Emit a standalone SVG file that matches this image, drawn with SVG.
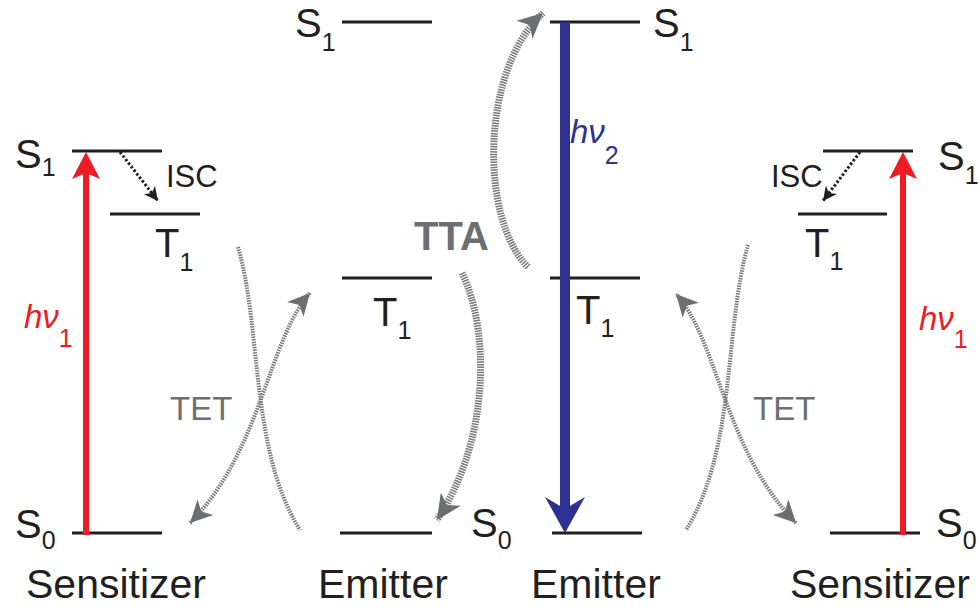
<svg xmlns="http://www.w3.org/2000/svg" width="978" height="607" viewBox="0 0 978 607">
<style>
text{font-family:"Liberation Sans",Arial,Helvetica,sans-serif;}
.lv{stroke:#231F20;stroke-width:3;fill:none;}
.lb{font-size:40px;fill:#231F20;}
.sub{font-size:25px;font-style:normal;}
.name{font-size:41px;fill:#231F20;}
.isc{font-size:31px;fill:#231F20;}
.tet{font-size:33px;fill:#6D6E71;}
.tta{font-size:40px;font-weight:bold;fill:#6D6E71;}
.hv{font-size:33px;}
.it{font-style:italic;}
.red{fill:#ED1C24;}
.blue{fill:#2E3192;}
.tetl{fill:none;stroke:#77787B;stroke-width:4;stroke-dasharray:1.5 1.1;}
.ttal{fill:none;stroke:#77787B;stroke-width:7;stroke-dasharray:1.5 1.1;}
.isca{fill:none;stroke:#231F20;stroke-width:3;stroke-dasharray:2.5 2;}
</style>
<defs>
<marker id="mRed" viewBox="-30 -16 32 32" markerWidth="32" markerHeight="32" refX="-15" refY="0" markerUnits="userSpaceOnUse" orient="auto">
<path d="M0,0 L-27,-14 L-21,0 L-27,14 Z" fill="#ED1C24"/>
</marker>
<marker id="mBlue" viewBox="-40 -22 42 44" markerWidth="42" markerHeight="44" refX="-20" refY="0" markerUnits="userSpaceOnUse" orient="auto">
<path d="M0,0 L-36,-20 L-24,0 L-36,20 Z" fill="#2E3192"/>
</marker>
<marker id="mGray" viewBox="-24 -13 26 26" markerWidth="26" markerHeight="26" refX="0" refY="0" markerUnits="userSpaceOnUse" orient="auto-start-reverse">
<path d="M0,0 L-22,-11 L-16,0 L-22,11 Z" fill="#6D6E71"/>
</marker>
<marker id="mGrayL" viewBox="-28 -14 30 28" markerWidth="30" markerHeight="28" refX="0" refY="0" markerUnits="userSpaceOnUse" orient="auto">
<path d="M0,0 L-25,-12 L-18,0 L-25,12 Z" fill="#6D6E71"/>
</marker>
<marker id="mBlack" viewBox="-16 -9 18 18" markerWidth="18" markerHeight="18" refX="0" refY="0" markerUnits="userSpaceOnUse" orient="auto">
<path d="M0,0 L-14,-7 L-10,0 L-14,7 Z" fill="#231F20"/>
</marker>
</defs>

<g id="sensitizer-left">
<g id="sensL-S1"><path class="lv" d="M72,151 H162"/><text class="lb" x="15" y="168">S<tspan class="sub" dy="8">1</tspan></text></g>
<g id="sensL-T1"><path class="lv" d="M110,214 H200"/><text class="lb" x="155" y="257">T<tspan class="sub" dy="14">1</tspan></text></g>
<g id="sensL-S0"><path class="lv" d="M72,533 H162"/><text class="lb" x="15" y="538">S<tspan class="sub" dy="11">0</tspan></text></g>
<text class="name" x="26" y="598">Sensitizer</text>
</g>

<g id="emitter-left">
<g id="emL-S1"><path class="lv" d="M342,22 H432"/><text class="lb" x="295" y="37">S<tspan class="sub" dy="14">1</tspan></text></g>
<g id="emL-T1"><path class="lv" d="M342,278 H432"/><text class="lb" x="373" y="326">T<tspan class="sub" dy="13">1</tspan></text></g>
<g id="emL-S0"><path class="lv" d="M340,533 H432"/><text class="lb" x="471" y="537">S<tspan class="sub" dy="12">0</tspan></text></g>
<text class="name" x="318" y="598">Emitter</text>
</g>

<g id="emitter-right">
<g id="emR-S1"><path class="lv" d="M550,22 H640"/><text class="lb" x="653" y="37">S<tspan class="sub" dy="14">1</tspan></text></g>
<g id="emR-T1"><path class="lv" d="M550,278 H640"/><text class="lb" x="576" y="324">T<tspan class="sub" dy="13">1</tspan></text></g>
<g id="emR-S0"><path class="lv" d="M552,533 H642"/></g>
<text class="name" x="531" y="598">Emitter</text>
</g>

<g id="sensitizer-right">
<g id="sensR-S1"><path class="lv" d="M823,151 H913"/><text class="lb" x="938" y="170">S<tspan class="sub" dy="14">1</tspan></text></g>
<g id="sensR-T1"><path class="lv" d="M798,214 H887"/><text class="lb" x="805" y="257">T<tspan class="sub" dy="13">1</tspan></text></g>
<g id="sensR-S0"><path class="lv" d="M830,533 H920"/><text class="lb" x="936" y="537">S<tspan class="sub" dy="12">0</tspan></text></g>
<text class="name" x="790" y="598">Sensitizer</text>
</g>

<g id="connectors">
<path d="M86,535 V167" stroke="#ED1C24" stroke-width="6" fill="none" marker-end="url(#mRed)"/>
<path d="M903,535 V167" stroke="#ED1C24" stroke-width="6" fill="none" marker-end="url(#mRed)"/>
<path d="M565,22 V513" stroke="#2E3192" stroke-width="10" fill="none" marker-end="url(#mBlue)"/>
<path class="isca" d="M120,152 L158,201" marker-end="url(#mBlack)"/>
<path class="isca" d="M860,152 L823,201" marker-end="url(#mBlack)"/>
<path class="tetl" d="M238,247 C262,330 250,450 300,530"/>
<path class="tetl" d="M190,523 C262,450 268,340 310,293" marker-start="url(#mGray)" marker-end="url(#mGray)"/>
<path class="tetl" d="M748,245 C724,330 736,450 686,530"/>
<path class="tetl" d="M796,523 C724,450 718,340 676,294" marker-start="url(#mGray)" marker-end="url(#mGray)"/>
<path class="ttal" d="M528,267 C480,220 480,70 543,13" marker-end="url(#mGrayL)"/>
<path class="ttal" d="M462,273 C490,330 490,440 437,520" marker-end="url(#mGrayL)"/>
<text class="hv red" x="24" y="328"><tspan class="it">hν</tspan><tspan class="sub" dy="19">1</tspan></text>
<text class="hv red" x="919" y="330"><tspan class="it">hν</tspan><tspan class="sub" dy="18">1</tspan></text>
<text class="hv blue" x="570" y="143"><tspan class="it">hν</tspan><tspan class="sub" dy="21">2</tspan></text>
<text class="isc" x="166" y="187">ISC</text>
<text class="isc" x="771" y="187">ISC</text>
<text class="tet" x="170" y="420">TET</text>
<text class="tet" x="753" y="420">TET</text>
<text class="tta" x="414" y="250">TTA</text>
</g>
</svg>
